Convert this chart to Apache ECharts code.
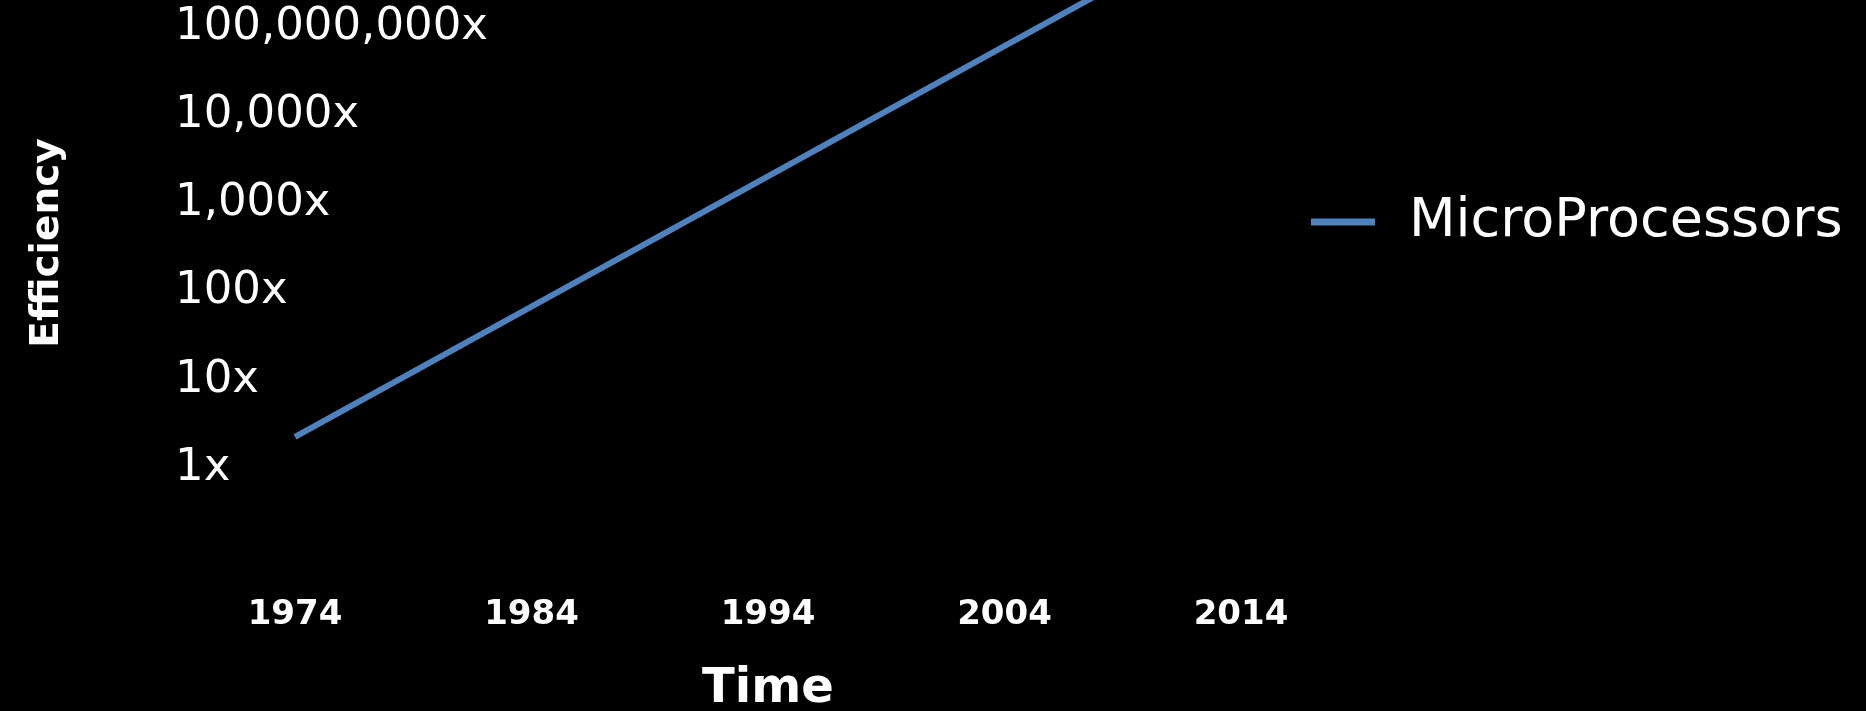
<!DOCTYPE html>
<html>
<head>
<meta charset="utf-8">
<script src="https://cdn.jsdelivr.net/npm/echarts@6/dist/echarts.min.js"></script>
<style>
html,body{margin:0;padding:0;background:#000;}
#chart{width:1866px;height:711px;}
</style>
</head>
<body>
<div id="chart"></div>
<script>
const years = [1974, 2008];
const efficiencyIndex = [0.352, 5.381];
const yearTicks = [1974, 1984, 1994, 2004, 2014];
const yLabels = ['1x', '10x', '100x', '1,000x', '10,000x', '100,000,000x'];
const seriesName = 'MicroProcessors';

const chart = echarts.init(document.getElementById('chart'));
chart.setOption({
  backgroundColor: '#000',
  animation: false,
  grid: { left: 295, right: 625, top: 0, bottom: 243, containLabel: false, outerBoundsMode: 'none' },
  legend: {
    left: 1306, top: 187,
    icon: 'rect',
    itemWidth: 64, itemHeight: 7,
    data: [seriesName],
    textStyle: { color: '#fff', fontFamily: 'DejaVu Sans', fontSize: 54, lineHeight: 60, padding: [0, 0, 0, 29] }
  },
  xAxis: {
    type: 'value', min: 1974, max: 2014, interval: 2,
    name: 'Time', nameLocation: 'middle', nameGap: 198,
    nameTextStyle: { color: '#fff', fontFamily: 'DejaVu Sans', fontWeight: 'bold', fontSize: 48 },
    axisLine: { show: false }, axisTick: { show: false }, splitLine: { show: false },
    axisLabel: {
      color: '#fff', fontFamily: 'DejaVu Sans', fontWeight: 'bold', fontSize: 34, margin: 130,
      formatter: v => yearTicks.includes(v) ? String(v) : ''
    }
  },
  yAxis: {
    type: 'value', min: 0, max: 5.312, interval: 1,
    name: 'Efficiency', nameLocation: 'middle', nameGap: 228, nameRotate: 90,
    nameTextStyle: { color: '#fff', fontFamily: 'DejaVu Sans', fontWeight: 'bold', fontSize: 39, padding: [0, 18, 0, 0] },
    axisLine: { show: false }, axisTick: { show: false }, splitLine: { show: false },
    axisLabel: {
      color: '#fff', fontFamily: 'DejaVu Sans', fontSize: 45, margin: 120, align: 'left',
      formatter: v => Number.isInteger(v) && v >= 0 && v < yLabels.length ? yLabels[v] : ''
    }
  },
  series: [{
    name: seriesName, type: 'line', symbol: 'none',
    lineStyle: { color: '#4F81BD', width: 6 },
    itemStyle: { color: '#4F81BD' },
    data: years.map((y, i) => [y, efficiencyIndex[i]])
  }]
});
</script>
</body>
</html>
